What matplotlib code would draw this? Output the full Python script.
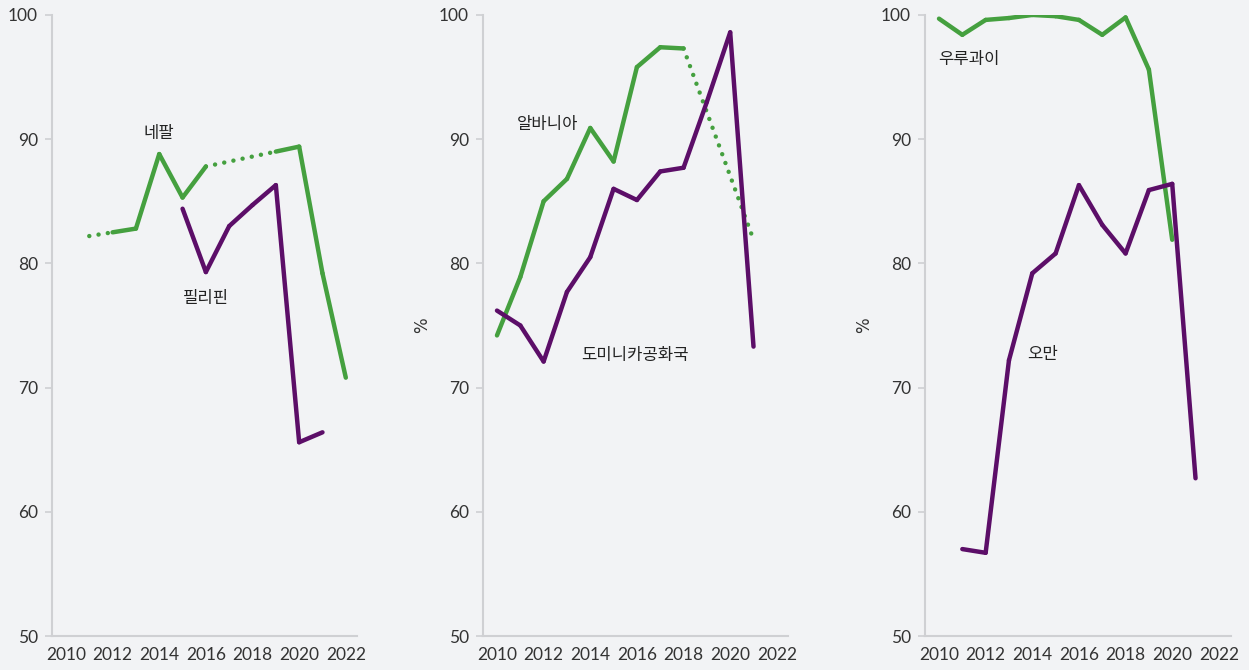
import numpy as np
import matplotlib
matplotlib.use('Agg')
import matplotlib.pyplot as plt

# years on the x axis
years = np.arange(2010, 2023)
nan = np.nan

# panel 1
nepal = [nan, 82.2, 82.5, 82.8, 88.8, 85.3, 87.8, nan, nan, 89.0, 89.4, 79.2, 70.8]
nepal_dotted = [(2011, 2012), (2016, 2019)]
philippines = [nan, nan, nan, nan, nan, 84.4, 79.3, 83.0, 84.7, 86.3, 65.6, 66.4, nan]

# panel 2
albania = [74.2, 78.9, 85.0, 86.8, 90.9, 88.2, 95.8, 97.4, 97.3, nan, nan, 81.9, nan]
albania_dotted = [(2018, 2021)]
dominican = [76.2, 75.0, 72.1, 77.7, 80.5, 86.0, 85.1, 87.4, 87.7, 93.0, 98.6, 73.3, nan]

# panel 3
uruguay = [99.7, 98.4, 99.6, 99.75, 100.0, 99.9, 99.6, 98.4, 99.8, 95.6, 81.9, nan, nan]
oman = [nan, 57.0, 56.7, 72.2, 79.2, 80.8, 86.3, 83.1, 80.8, 85.9, 86.4, 62.7, nan]

xticks = [2010, 2012, 2014, 2016, 2018, 2020, 2022]
yticks = [50, 60, 70, 80, 90, 100]

GREEN = '#45a03f'
PURPLE = '#5c0e68'
BG = '#f2f3f5'
KFONT = ['Noto Sans CJK KR', 'DejaVu Sans']


def drawSeries(ax, values, color, dotted=()):
    values = np.array(values, dtype=float)
    dottedSet = set(dotted)
    for i in range(len(years) - 1):
        a, b = years[i], years[i + 1]
        if (a, b) in dottedSet:
            continue
        if np.isnan(values[i]) or np.isnan(values[i + 1]):
            continue
        ax.plot([a, b], [values[i], values[i + 1]], color=color, lw=3.2,
                solid_capstyle='round', solid_joinstyle='round')
    for a, b in dotted:
        ia, ib = a - years[0], b - years[0]
        ax.plot([a, b], [values[ia], values[ib]], color=color, lw=3.2,
                linestyle=(0, (0.01, 2.1)), dash_capstyle='round')


def styleAxes(ax, showPercent):
    ax.set_facecolor(BG)
    ax.set_xlim(2009.4, 2022.5)
    ax.set_ylim(50, 100)
    ax.set_xticks(xticks)
    ax.set_yticks(yticks)
    for side in ['top', 'right']:
        ax.spines[side].set_visible(False)
    for side in ['left', 'bottom']:
        ax.spines[side].set_color('#cfd0d3')
        ax.spines[side].set_linewidth(1.5)
    ax.tick_params(axis='y', length=5, width=1.2, color='#cfd0d3',
                   labelsize=12.5, labelcolor='#333333', pad=5)
    ax.tick_params(axis='x', length=0, labelsize=12.5, labelcolor='#333333', pad=8)
    for lab in ax.get_xticklabels() + ax.get_yticklabels():
        lab.set_fontfamily('Lato')
    if showPercent:
        ax.set_ylabel('%', fontsize=12, color='#333333', labelpad=6)


def main():
    fig = plt.figure(figsize=(12.49, 6.7), dpi=100)
    fig.patch.set_facecolor(BG)

    width = 0.2446
    bottom = 0.0507
    height = 0.927
    ax1 = fig.add_axes([0.0416, bottom, width, height])
    ax2 = fig.add_axes([0.3867, bottom, width, height])
    ax3 = fig.add_axes([0.7406, bottom, width, height])

    drawSeries(ax1, nepal, GREEN, nepal_dotted)
    drawSeries(ax1, philippines, PURPLE)
    styleAxes(ax1, False)
    ax1.text(2014, 89.8, '네팔', fontsize=12, family=KFONT, color='#222222',
             ha='center', va='bottom')
    ax1.text(2016, 77.2, '필리핀', fontsize=12, family=KFONT, color='#222222',
             ha='center', va='center')

    drawSeries(ax2, albania, GREEN, albania_dotted)
    drawSeries(ax2, dominican, PURPLE)
    styleAxes(ax2, True)
    ax2.text(2010.85, 91.2, '알바니아', fontsize=12, family=KFONT, color='#222222',
             ha='left', va='center')
    ax2.text(2013.6, 72.6, '도미니카공화국', fontsize=12, family=KFONT, color='#222222',
             ha='left', va='center')

    drawSeries(ax3, uruguay, GREEN)
    drawSeries(ax3, oman, PURPLE)
    styleAxes(ax3, True)
    ax3.text(2009.95, 96.4, '우루과이', fontsize=12, family=KFONT,
             color='#222222', ha='left', va='center')
    ax3.text(2013.8, 72.7, '오만', fontsize=12, family=KFONT, color='#222222',
             ha='left', va='center')

    fig.savefig('out.png', dpi=100, facecolor=BG)


if __name__ == '__main__':
    main()
